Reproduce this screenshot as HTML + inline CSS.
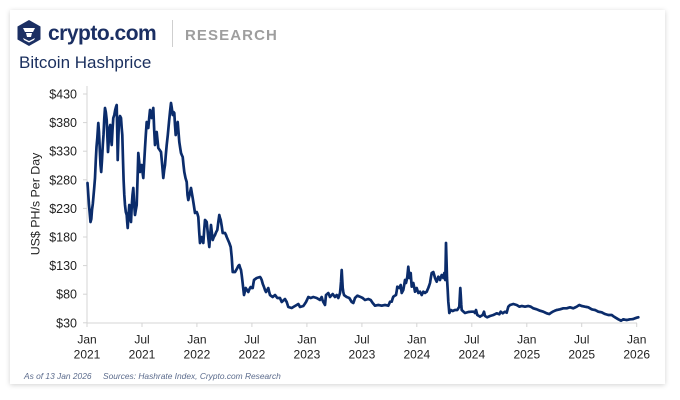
<!DOCTYPE html>
<html><head><meta charset="utf-8"><style>
html,body{margin:0;padding:0;background:#fff;width:680px;height:400px;overflow:hidden}
.card{position:absolute;left:10px;top:10px;width:655px;height:374px;background:#fff;box-shadow:0 1px 5px rgba(0,0,0,0.18)}
svg{position:absolute;left:0;top:0}
text{font-family:"Liberation Sans",sans-serif}
</style></head><body>
<div class="card"></div>
<svg width="680" height="400" viewBox="0 0 680 400">
<!-- logo -->
<polygon points="29,20 40.5,26.5 40.5,39.5 29,46 17.5,39.5 17.5,26.5" fill="#1b2f63"/>
<path d="M23,28 L35,28 L33,32 L25,32 Z" fill="#fff"/>
<path d="M26,33 L32,33 L31,37 L27,37 Z" fill="#fff"/>
<path d="M21,34 L24,40 L29,42.5 L34,40 L37,34 L35,38 L29,41 L23,38 Z" fill="#fff"/>
<text x="48" y="40" font-size="21" font-weight="700" fill="#1b2f63" letter-spacing="-0.5">crypto.com</text>
<line x1="172.5" y1="20" x2="172.5" y2="47" stroke="#cfcfcf" stroke-width="1"/>
<text x="185" y="40" font-size="15" font-weight="700" fill="#9e9e9e" letter-spacing="1.1">RESEARCH</text>
<text x="19" y="68" font-size="17" fill="#1a2f5e">Bitcoin Hashprice</text>

<!-- axes -->
<line x1="87" y1="86" x2="87" y2="323" stroke="#d4d4d4" stroke-width="1"/>
<line x1="87" y1="323" x2="637" y2="323" stroke="#d4d4d4" stroke-width="1"/>
<g stroke="#d4d4d4" stroke-width="1">
<line x1="83" y1="94" x2="87" y2="94"/><line x1="83" y1="122.6" x2="87" y2="122.6"/>
<line x1="83" y1="151.2" x2="87" y2="151.2"/><line x1="83" y1="179.8" x2="87" y2="179.8"/>
<line x1="83" y1="208.4" x2="87" y2="208.4"/><line x1="83" y1="237" x2="87" y2="237"/>
<line x1="83" y1="265.6" x2="87" y2="265.6"/><line x1="83" y1="294.2" x2="87" y2="294.2"/>
<line x1="83" y1="322.8" x2="87" y2="322.8"/>
<line x1="87" y1="323" x2="87" y2="327"/><line x1="142" y1="323" x2="142" y2="327"/>
<line x1="196.9" y1="323" x2="196.9" y2="327"/><line x1="251.9" y1="323" x2="251.9" y2="327"/>
<line x1="306.9" y1="323" x2="306.9" y2="327"/><line x1="361.9" y1="323" x2="361.9" y2="327"/>
<line x1="416.8" y1="323" x2="416.8" y2="327"/><line x1="471.8" y1="323" x2="471.8" y2="327"/>
<line x1="526.8" y1="323" x2="526.8" y2="327"/><line x1="581.7" y1="323" x2="581.7" y2="327"/>
<line x1="636.7" y1="323" x2="636.7" y2="327"/>
</g>
<g font-size="12.5" fill="#222" text-anchor="end">
<text x="77" y="98.5">$430</text><text x="77" y="127.1">$380</text>
<text x="77" y="155.7">$330</text><text x="77" y="184.3">$280</text>
<text x="77" y="212.9">$230</text><text x="77" y="241.5">$180</text>
<text x="77" y="270.1">$130</text><text x="77" y="298.7">$80</text>
<text x="77" y="327.3">$30</text>
</g>
<g font-size="12" fill="#222" text-anchor="middle">
<text x="87" y="343.5">Jan</text><text x="87" y="358.5">2021</text>
<text x="142" y="343.5">Jul</text><text x="142" y="358.5">2021</text>
<text x="196.9" y="343.5">Jan</text><text x="196.9" y="358.5">2022</text>
<text x="251.9" y="343.5">Jul</text><text x="251.9" y="358.5">2022</text>
<text x="306.9" y="343.5">Jan</text><text x="306.9" y="358.5">2023</text>
<text x="361.9" y="343.5">Jul</text><text x="361.9" y="358.5">2023</text>
<text x="416.8" y="343.5">Jan</text><text x="416.8" y="358.5">2024</text>
<text x="471.8" y="343.5">Jul</text><text x="471.8" y="358.5">2024</text>
<text x="526.8" y="343.5">Jan</text><text x="526.8" y="358.5">2025</text>
<text x="581.7" y="343.5">Jul</text><text x="581.7" y="358.5">2025</text>
<text x="636.7" y="343.5">Jan</text><text x="636.7" y="358.5">2026</text>
</g>
<text transform="translate(39.5,204) rotate(-90)" font-size="12.4" fill="#222" text-anchor="middle">US$ PH/s Per Day</text>

<!-- series -->
<polyline fill="none" stroke="#0b2c6b" stroke-width="2.7" stroke-linejoin="round" stroke-linecap="round" points="87.5,183 88.3,195 89,205 89.8,214 90.5,222 91.3,219 92,210 92.8,204 93.5,196 94.2,188 95,178 95.8,160 96.5,147 97.3,138 98.3,123 99,132 99.8,150 100.5,165 101.2,172 102,160 102.8,145 103.5,135 104.3,118 105,108 105.8,112 106.7,120 107.3,135 108,152 108.8,140 109.5,128 110.2,125 111,138 111.7,145 112.5,130 113.3,118 114.3,115 115.2,110 116,107 116.7,105 117.2,130 117.7,160 118.3,140 119,120 120,116 121,118 121.7,128 122.3,135 123,160 123.6,180 124.3,195 125,205 125.8,212 126.7,215 127.2,222 127.7,228 128.5,215 129.3,205 130.2,215 131,222 131.8,205 132.5,195 133.3,188 134.2,205 135,215 135.8,210 136.7,205 137.5,180 138.3,153 139.2,162 140,172 140.8,168 141.7,165 142.5,172 143.3,178 144.2,162 145,148 145.8,135 146.7,122 147.5,127 148.3,128 149.2,118 150,110 150.8,115 151.7,118 152.5,112 153.3,108 154.2,130 155,145 155.8,138 156.7,132 157.5,140 158.3,148 159.7,150 161,152 162.2,165 163.3,178 164.2,170 165,165 165.8,155 166.7,145 167.8,135 169,122 170,112 171,103 171.8,108 172.7,115 173.5,112 174.3,113 175,125 175.7,135 176.7,128 177.7,122 178.5,132 179.3,142 180.2,148 181,153 181.8,155 182.7,157 183.5,165 184.3,172 185.5,178 186.7,182 187.5,195 188.3,200 189.5,195 191,188 192,194 192.7,198 193.8,205 195,213 196.7,212 197.5,214 198.3,217 199.2,232 200,243 200.8,240 201.7,237 202.5,240 203.3,243 204.2,230 205,220 206,221 206.7,222 207.5,230 208.3,238 209.3,247 210.2,235 211,225 211.8,232 212.7,240 213.8,237 215,235 216.2,232 217.3,230 218.3,222 219.3,215 220,218 220.7,220 221.7,226 222.7,233 223.8,233 225,233 226,235 226.7,237 228,240 229.3,243 230.7,247 231.7,257 232.7,272 233.8,272 235,272 236.2,270 237.3,268 238.3,266 239.3,265 240.2,268 241,270 241.7,275 242.3,280 243.2,288 244,295 245,291 245.7,288 247,290 248.3,292 249.5,289 250.7,287 251.7,288 252.7,288 253.3,284 254,280 255.3,279 256.7,278 258.3,277.5 260,277 260.8,278 261.7,280 262.8,284 264,287 265,290 266,292 267.2,290 268.3,288 269.2,292 270,295 271.3,296 272.7,297 273.8,296 275,295 276.2,296.5 277.3,298 278.7,298 280,298 280.8,300 281.7,302 283.3,300.5 285,299 285.8,300.5 286.7,302 287.5,304.5 288.3,307 290,307.5 291.7,308 293.3,307 295,306 296.7,305 298.3,304 299.2,305.5 300,307 301.7,306.5 303.3,306 304.7,304 306,302 307.2,299.5 308.3,297 309.5,297.5 310.7,298 312,297.5 313.3,297 315,297.5 316.7,298 318.3,299 320,300 320.8,298.5 321.7,297 322.5,300 323.3,302 325,305 326,295 327.2,294 328.3,293 329.2,295 330,297 331.3,295.5 332.7,294 333.8,295.5 335,297 335.8,296 336.7,295 337.5,296.5 338.3,298 339.2,295.5 340,293 340.5,288 341,282 341.7,270 342.2,279 342.7,288 343.3,292 344,295 345.3,296 346.7,297 348,297.5 349.3,298 350.5,300 351.7,302 352.5,302.5 353.3,303 354.2,300.5 355,298 356.2,296.8 357.3,295.7 358.7,296.2 360,296.7 361.3,297.3 362.7,298 363.8,299 365,300 366.7,299.5 368.3,299 369.5,299.5 370.7,300 371.7,301.5 372.7,303 373.8,304.3 375,305.7 376.7,305.3 378.3,305 380,305.3 381.7,305.7 383.3,305.3 385,305 386.7,305.3 388.3,305.7 389.2,303.7 390,301.7 391.7,301.7 392.5,299 393.3,296.7 394.7,295.8 396,295 396.7,291 397.3,286.7 398.3,287.3 399.3,288 400,286.5 400.7,285 401.2,289 401.7,293 402.5,291.5 403.3,290 404.2,285 405,280 405.5,281.5 406,283 406.7,280 407.3,276.7 407.8,271.7 408.3,266.7 408.8,272 409.3,278 410,275.5 410.7,273 411.2,280 411.7,286.7 412.5,284.8 413.3,283 414.2,287.3 415,291.7 415.8,289.8 416.7,288 417.5,290.5 418.3,293 419.2,292.3 420,291.7 420.8,293.3 421.7,295 422.5,293.3 423.3,291.7 424.2,292.3 425,293 425.8,292.3 426.7,291.7 427.5,289.8 428.3,288 429.2,285.5 430,283 430.8,278 431.7,273 432.5,272.5 433.3,272 434.2,275 435,278 435.8,279.8 436.7,281.7 437.5,279.2 438.3,276.7 439.2,278.3 440,280 440.8,277.5 441.7,275 442.5,276.5 443.3,278 443.8,275.5 444.3,273 444.8,276.5 445.3,280 445.7,260 446,243 446.5,260 447,278 447.7,290 448.3,301.7 448.8,307 449.3,313 450,311.5 450.7,310 451.7,310.5 452.7,311 453.8,310.5 455,310 456.2,310 457.3,310 458.3,308.3 459.3,306.7 459.8,297 460.3,288 460.8,296 461.3,305 461.7,310 463.3,311.5 465,313 466.7,312.5 468.3,312 470,311.8 471.7,311.7 474,311.7 475,313 476,310 477.3,315 478.7,315.8 480,316.7 481.3,315.8 482.7,315 484,311.7 485,316 487.3,317.3 488.7,316.6 490,316 491.7,315.5 493.3,315 495,314.2 496.7,313.3 498,313.8 499.3,314.3 500,313 500.7,311.7 501.7,312.5 502.7,313.3 503.8,312.5 505,311.7 505.8,312.2 506.7,312.7 507.5,309.7 508.3,306.7 509.2,305.8 510,305 511.7,304.5 513.3,304 515,304.5 516.7,305 518,305.8 519.3,306.7 520.5,306.3 521.7,306 523.3,306.3 525,306.7 526.7,306.3 528.3,306 529.5,306.3 530.7,306.7 532,307.5 533.3,308.3 535,308.8 536.7,309.3 538.3,310 540,310.7 541.7,311.2 543.3,311.7 545,312.5 546.7,313.3 548,313.7 549.3,314 551,312.8 552.7,311.7 554.7,310.8 556.7,310 558.3,309.7 560,309.3 561.7,308.8 563.3,308.3 565,308.3 566.7,308.3 568.3,307.8 570,307.3 571.7,307.8 573.3,308.3 575,307.5 576.7,306.7 578,305.8 579.3,305 580.5,305.5 581.7,306 583.3,306.3 585,306.7 586.7,307 588.3,307.3 590,308.3 591.7,309.3 593.3,309.7 595,310 596.7,310.8 598.3,311.7 600,312 601.7,312.3 603.3,313.2 605,314 606.7,314.5 608.3,315 610,315 611.7,315 613.3,316.2 615,317.3 616.7,318.3 618.3,319.3 619.7,320 621,320.7 622.2,320 623.3,319.3 625,319.7 626.7,320 628.3,319.7 630,319.3 631.7,319.2 633.3,319 635,318.3 636.7,317.7 638.3,317.3"/>

<!-- footer -->
<text x="24" y="379" font-size="8.4" font-style="italic" fill="#5b6b8c">As of 13 Jan 2026</text>
<text x="103" y="379" font-size="8.4" font-style="italic" fill="#5b6b8c">Sources: Hashrate Index, Crypto.com Research</text>
</svg>
</body></html>
